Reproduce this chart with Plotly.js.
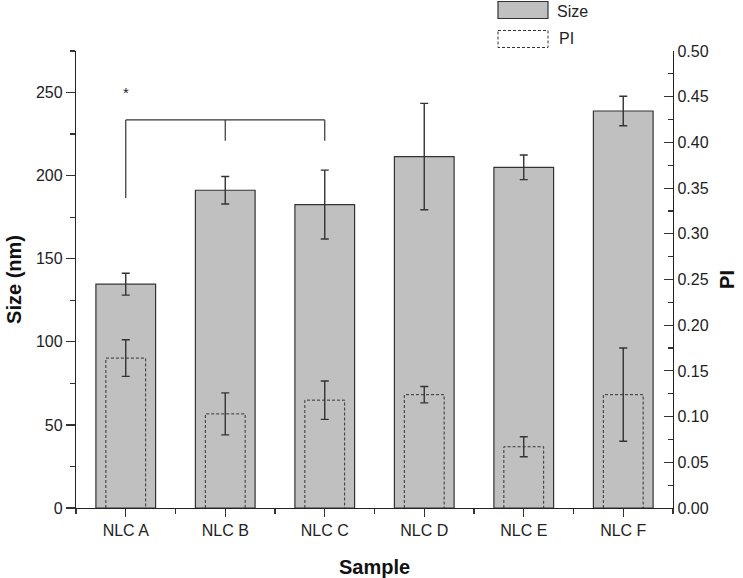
<!DOCTYPE html>
<html>
<head>
<meta charset="utf-8">
<script src="https://cdn.plot.ly/plotly-3.0.1.min.js"></script>
<style>html,body{margin:0;padding:0;background:#fff;}#chart{width:743px;height:578px;}</style>
</head>
<body>
<div id="chart"></div>
<script>
// ---- data ----
const samples = ["NLC A", "NLC B", "NLC C", "NLC D", "NLC E", "NLC F"];
const sizeMean = [134.7, 191.2, 182.6, 211.5, 205.0, 238.9];
const sizeErr = [6.6, 8.3, 20.7, 32.0, 7.4, 8.9];
const piMean = [0.164, 0.103, 0.118, 0.124, 0.067, 0.124];
const piErr = [0.020, 0.023, 0.021, 0.009, 0.011, 0.051];
const sigLabel = "*";

const idx = samples.map((_, i) => i);
const FONT = "Liberation Sans, Arial, sans-serif";
const INK = "#222";
const GREY = "#c0c0c0";

// plot area in px (used only to place the legend)
const L = 76, R = 673, T = 51, B = 508, W = 743, H = 578;
const px = x => (x - L) / (R - L);
const py = y => (B - y) / (B - T);

// dashed outline of the PI bars, derived from the PI values
const piHalf = 0.2;
const olX = [], olY = [];
piMean.forEach((v, i) => {
  olX.push(i - piHalf, i - piHalf, i + piHalf, i + piHalf, null);
  olY.push(0, v, v, 0, null);
});

const traces = [
  {
    type: "bar", x: idx, y: sizeMean, width: 0.6, name: "Size",
    marker: {color: GREY, line: {color: "#333", width: 1.2}},
    error_y: {type: "data", array: sizeErr, visible: true, color: "#333", thickness: 1.4, width: 4},
    showlegend: false, hoverinfo: "skip"
  },
  {
    type: "bar", x: idx, y: piMean, width: 0.4, name: "PI", yaxis: "y2",
    marker: {color: "rgba(0,0,0,0)", line: {color: "rgba(0,0,0,0)", width: 0}},
    error_y: {type: "data", array: piErr, visible: true, color: "#333", thickness: 1.4, width: 4},
    showlegend: false, hoverinfo: "skip"
  },
  {
    type: "scatter", mode: "lines", x: olX, y: olY, yaxis: "y2",
    line: {color: "#333", width: 1, dash: "3px,2px"},
    connectgaps: false, showlegend: false, hoverinfo: "skip"
  }
];

// significance bracket (data coords)
const br = {x0: 0, x1: 1, x2: 2, top: 233.5, legA: 186.5, legBC: 221};
const shapes = [
  {type: "line", xref: "x", yref: "y", x0: br.x0, x1: br.x2, y0: br.top, y1: br.top, line: {color: "#333", width: 1.2}},
  {type: "line", xref: "x", yref: "y", x0: br.x0, x1: br.x0, y0: br.top, y1: br.legA, line: {color: "#333", width: 1.2}},
  {type: "line", xref: "x", yref: "y", x0: br.x1, x1: br.x1, y0: br.top, y1: br.legBC, line: {color: "#333", width: 1.2}},
  {type: "line", xref: "x", yref: "y", x0: br.x2, x1: br.x2, y0: br.top, y1: br.legBC, line: {color: "#333", width: 1.2}},
  // legend boxes
  {type: "rect", xref: "paper", yref: "paper", x0: px(498), x1: px(548), y0: py(1.5), y1: py(18.5),
   fillcolor: GREY, line: {color: "#333", width: 1.2}},
  {type: "rect", xref: "paper", yref: "paper", x0: px(498), x1: px(548), y0: py(30.5), y1: py(47.5),
   fillcolor: "rgba(0,0,0,0)", line: {color: "#333", width: 1, dash: "3px,2px"}}
];

const annotations = [
  {xref: "x", yref: "y", x: 0, y: 250, text: sigLabel, showarrow: false, font: {family: FONT, size: 15, color: INK}},
  {xref: "paper", yref: "paper", x: px(555), y: py(12), xanchor: "left", yanchor: "middle", text: "Size",
   showarrow: false, font: {family: FONT, size: 16, color: INK}},
  {xref: "paper", yref: "paper", x: px(557), y: py(39), xanchor: "left", yanchor: "middle", text: "PI",
   showarrow: false, font: {family: FONT, size: 16, color: INK}}
];

const layout = {
  width: W, height: H,
  margin: {l: L, r: W - R, t: T, b: H - B, pad: 0},
  paper_bgcolor: "#fff", plot_bgcolor: "#fff",
  barmode: "overlay",
  font: {family: FONT, size: 16, color: INK},
  xaxis: {
    range: [-0.5, 5.5], tickvals: idx, ticktext: samples,
    showline: true, linecolor: "#222", linewidth: 1.2, mirror: false,
    ticks: "outside", ticklen: 8, tickwidth: 1.2, tickcolor: "#333",
    minor: {tick0: -0.5, dtick: 1, ticks: "outside", ticklen: 5, tickwidth: 1.2, tickcolor: "#333", showgrid: false},
    showgrid: false, zeroline: false,
    tickfont: {family: FONT, size: 16, color: INK},
    title: {text: "<b>Sample</b>", font: {family: FONT, size: 20, color: "#111"}, standoff: 22},
    automargin: false, fixedrange: true
  },
  yaxis: {
    range: [0, 275], dtick: 50, tick0: 0,
    showline: true, linecolor: "#222", linewidth: 1.2,
    ticks: "outside", ticklen: 9, tickwidth: 1.2, tickcolor: "#333",
    minor: {dtick: 25, ticks: "outside", ticklen: 5, tickwidth: 1.2, tickcolor: "#333", showgrid: false},
    showgrid: false, zeroline: false,
    tickfont: {family: FONT, size: 16, color: INK},
    title: {text: "<b>Size (nm)</b>", font: {family: FONT, size: 20, color: "#111"}, standoff: 8},
    automargin: false, fixedrange: true
  },
  yaxis2: {
    overlaying: "y", side: "right", anchor: "x",
    range: [0, 0.5], dtick: 0.05, tick0: 0, tickformat: ".2f",
    showline: true, linecolor: "#222", linewidth: 1.2,
    ticks: "inside", ticklen: 9, tickwidth: 1.2, tickcolor: "#333",
    minor: {dtick: 0.025, ticks: "inside", ticklen: 5, tickwidth: 1.2, tickcolor: "#333", showgrid: false},
    showgrid: false, zeroline: false,
    tickfont: {family: FONT, size: 16, color: INK},
    title: {text: "<b>PI</b>", font: {family: FONT, size: 20, color: "#111"}, standoff: 12},
    automargin: false, fixedrange: true
  },
  shapes: shapes,
  annotations: annotations,
  showlegend: false
};

Plotly.newPlot("chart", traces, layout, {displayModeBar: false, staticPlot: true});
</script>
</body>
</html>
